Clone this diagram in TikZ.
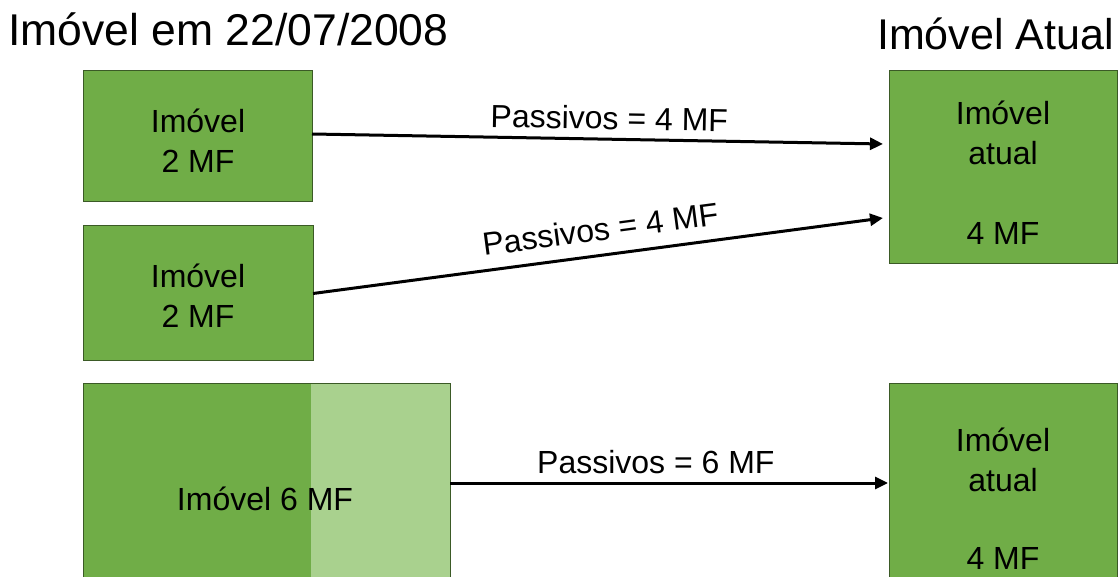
\documentclass[tikz,border=0pt]{standalone}
\usepackage{fontspec}
\setmainfont{Liberation Sans}
\usetikzlibrary{arrows.meta}
\definecolor{boxgreen}{HTML}{70AD47}
\definecolor{lightgreen}{HTML}{A9D18E}
\definecolor{boxedge}{HTML}{3B5A26}
\begin{document}
\begin{tikzpicture}[x=1pt,y=-1pt,
  box/.style={draw=boxedge, line width=1pt, fill=boxgreen, inner sep=0pt, outer sep=0pt, anchor=north west},
  txt/.style={font=\fontsize{32}{40}\selectfont, align=center, text=black, inner sep=0pt},
  ttl/.style={font=\fontsize{43}{50}\selectfont, inner sep=0pt},
  conn/.style={line width=3pt, -{Triangle[length=13pt,width=12pt]}},
  lbl/.style={font=\fontsize{32}{38}\selectfont, sloped, above, inner sep=8pt}]
\useasboundingbox (0,0) rectangle (1120,577);
\clip (0,0) rectangle (1120,577);
% titles
\node[ttl, font=\fontsize{44.5}{50}\selectfont, anchor=base west] (title1) at (8,46) {Imóvel em 22/07/2008};
\node[ttl, anchor=base east] (title2) at (1114,50) {Imóvel Atual};
% left boxes
\node[box, minimum width=229pt, minimum height=131pt] (b1) at (83,71) {};
\node[box, minimum width=230pt, minimum height=135pt] (b2) at (83,226) {};
\node[box, fill=lightgreen, minimum width=367pt, minimum height=236pt,
  path picture={\fill[boxgreen] (path picture bounding box.north west) rectangle ([xshift=228pt]path picture bounding box.south west);}] (b3) at (83,384) {};
% right boxes
\node[box, minimum width=228pt, minimum height=193pt] (r1) at (889,71) {};
\node[box, minimum width=228pt, minimum height=236pt] (r2) at (889,384) {};
% texts
\node[txt] (t1) at (198,140.5) {Imóvel\\2 MF};
\node[txt] (t2) at (198,295.5) {Imóvel\\2 MF};
\node[txt, anchor=base] (t3) at (265,510.5) {Imóvel 6 MF};
\node[txt] (t4) at (1003,173) {Imóvel\\atual\\[40pt]4 MF};
\node[txt] (t5) at (1003,499) {Imóvel\\atual\\[38pt]4 MF};
% connectors
\draw[conn] ([yshift=2.5pt]b1.east) -- node[lbl, pos=0.52] (l1) {Passivos = 4 MF} ([xshift=-6pt,yshift=23.5pt]r1.west);
\draw[conn] (b2.east) -- node[lbl, pos=0.51, inner sep=13pt] (l2) {Passivos = 4 MF} ([xshift=-6pt,yshift=-50.5pt]r1.west);
\draw[conn] ([yshift=19pt]b3.east) -- node[lbl, pos=0.47] (l3) {Passivos = 6 MF} ([xshift=-1pt,yshift=19pt]r2.west);
\end{tikzpicture}
\end{document}
